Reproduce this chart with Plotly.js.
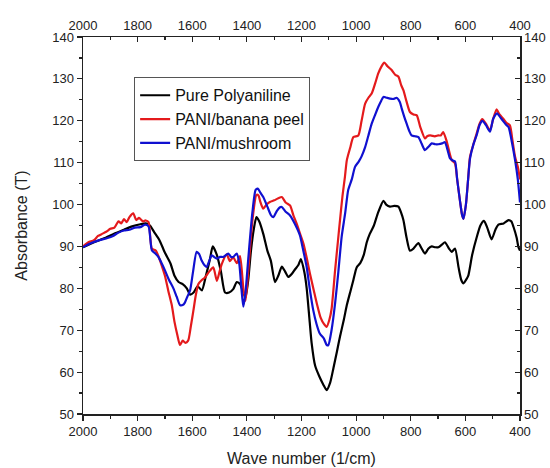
<!DOCTYPE html>
<html>
<head>
<meta charset="utf-8">
<script src="https://cdn.plot.ly/plotly-3.0.1.min.js"></script>
<style>html,body{margin:0;padding:0;background:#fff;}#chart{width:550px;height:468px;}</style>
</head>
<body>
<div id="chart"></div>
<script>
const seriesNames = ["Pure Polyaniline", "PANI/banana peel", "PANI/mushroom"];
const seriesColors = ["#000000", "#e41a1c", "#1010d0"];

const pureX = [2000,1960,1920,1880,1850,1820,1790,1770,1755,1740,1720,1700,1680,1665,1650,1635,1620,1608,1595,1580,1565,1550,1535,1525,1510,1495,1480,1465,1450,1437,1425,1413,1405,1395,1385,1375,1365,1355,1340,1325,1312,1297,1285,1272,1260,1248,1235,1224,1212,1202,1190,1181,1170,1163,1150,1135,1120,1108,1095,1083,1070,1059,1045,1034,1020,1010,998,985,972,961,950,935,919,900,890,876,860,845,835,827,815,803,790,772,760,748,735,723,710,699,685,675,660,650,638,625,615,607,595,589,575,558,545,532,520,504,490,479,460,442,432,424,412,406,400];
const pureY = [89.8,91.0,92.0,93.2,94.0,94.8,95.3,95.5,95.0,93.5,91.5,88.5,86,83,81.5,81,80,78.5,79,80.5,79.5,83,87,90,88,84,79,79,79.8,81.5,81,79,77.8,82,89,94,97,96,93,89,86.5,81.5,83,85.2,84,82.7,83.5,84.5,85.5,87,84,80,72,67,61.5,59,57,55.7,57.5,61,65,68.5,72.5,76,79.5,82,85,86,88,91,93,95,98.2,100.9,100,99.5,99.7,99.5,98,96.3,92,89,89.5,90.8,89.5,88.3,89.5,90.0,89.8,89.8,90.5,91,89.5,88.7,89.5,85,82,81.2,82.3,83.1,88,92.3,95,96.1,94.5,91.7,94,95.2,95.5,96.3,96,94.7,92,89.9,89];

const bananaX = [2000,1980,1960,1945,1930,1915,1900,1885,1870,1860,1850,1840,1830,1816,1805,1795,1780,1770,1760,1748,1733,1720,1712,1700,1688,1675,1665,1655,1645,1635,1625,1615,1605,1596,1588,1578,1565,1553,1538,1523,1510,1500,1492,1474,1462,1450,1437,1425,1413,1405,1395,1380,1365,1358,1350,1340,1328,1316,1300,1285,1272,1258,1242,1230,1218,1205,1193,1180,1169,1155,1144,1130,1118,1108,1098,1090,1077,1067,1059,1050,1041,1034,1022,1010,992,980,967,955,943,930,919,907,897,885,870,857,845,835,827,815,803,790,778,765,748,740,729,712,699,690,681,668,650,638,630,620,612,607,598,590,583,570,559,548,538,525,510,498,486,475,461,450,437,428,418,408,400];
const bananaY = [90,91,91.5,92.5,93,93.5,94.2,94.5,96,95.5,96.5,95.8,97,97.9,96.3,96.8,96,96.2,95.8,89.5,89,87,85.5,83,79.5,76,72,69,66.5,67.5,67,67.5,71,74.6,78,81,82,82.6,84,85,81.8,84,85.8,88.1,86.5,87.4,86,87.7,80,77,84,96,102.3,102.2,100.5,99,100,100.6,101,101.5,101.8,100.5,99.8,97.5,95.5,93,90.7,87,83.5,79.5,76.4,73,71.5,70.8,72.5,75,84.3,91,96.3,102,106.6,110.6,113.5,116.1,116.5,120,124.1,125.5,126.5,129,131.3,133,133.9,133,132.1,131,130.5,128.5,127.3,124.5,122.1,121.5,121.3,118.5,115.8,116.3,116.5,116.3,116.5,116.5,117.3,115,110.6,109.8,106,101,97.5,96.6,100,106,111.4,114.5,116.9,119.3,120.4,119.3,117.7,120.5,122.7,121.5,120.5,119.5,118.9,115.5,111.4,109,106];

const mushroomX = [2000,1970,1940,1910,1890,1870,1850,1830,1810,1790,1773,1760,1748,1735,1724,1712,1700,1685,1669,1657,1645,1635,1627,1618,1608,1597,1584,1575,1566,1555,1547,1538,1529,1520,1510,1498,1486,1468,1458,1450,1437,1428,1420,1413,1405,1395,1380,1368,1360,1350,1340,1325,1312,1303,1290,1280,1272,1258,1242,1225,1206,1195,1181,1170,1157,1145,1133,1118,1108,1102,1090,1077,1065,1053,1040,1029,1016,1004,990,980,967,955,943,930,919,908,900,888,876,864,852,840,833,824,815,805,797,785,772,760,748,735,723,710,699,685,675,665,656,646,638,630,620,612,607,598,590,583,570,559,548,538,525,510,498,484,472,460,450,442,430,418,408,400];
const mushroomY = [89.8,90.8,91.5,92,92.5,93.3,93.8,94,94.5,94.6,95.2,94.8,89.1,88.3,87.5,86,84.3,82,80,78,76,76,76.6,78,79.5,84,88.7,88.2,86.7,85.5,85.1,86.5,87.9,87.5,87.1,87.5,87.5,88.3,87.5,87.5,88.3,86,80,75.6,79,87,98,103.5,103.8,102.8,101.8,99.5,97.5,97,98.5,99.3,99.4,98.3,97.4,95.5,92.7,89.5,85.1,80,74.8,71.5,69.2,68,66.5,66.4,70,76.4,84,92.3,98,103.5,106,109,110.3,111.5,113.7,116.5,119.3,121.5,123.3,124.8,125.7,125.5,125.3,125.2,125.5,124.5,122.9,121,119.3,117.5,116.5,116.3,116.1,114.5,113,113.8,114.6,114.4,114.4,114.6,114.9,113,111,110.5,110.3,106,101,97.5,96.6,100,106,111,114.5,116.5,119,120,119,117.4,120.5,121.8,120.8,119.8,119,118.5,115,110.6,106,100.5];

const xTickVals = [2000,1800,1600,1400,1200,1000,800,600,400];
const yTickVals = [50,60,70,80,90,100,110,120,130,140];

const xs = [pureX, bananaX, mushroomX];
const ys = [pureY, bananaY, mushroomY];

const traces = seriesNames.map((n, i) => ({
  x: xs[i], y: ys[i], name: n, type: 'scatter', mode: 'lines',
  line: {color: seriesColors[i], width: 2.2, shape: 'spline', smoothing: 0.6},
  xaxis: 'x', yaxis: 'y'
}));
// helper trace so the mirrored top/right axes are drawn
traces.push({x: pureX, y: pureY, xaxis: 'x2', yaxis: 'y2', mode: 'lines',
  line: {width: 0, color: 'rgba(0,0,0,0)'}, showlegend: false, hoverinfo: 'skip'});

const FF = 'Liberation Sans, Arial, sans-serif';
const tickFont = {family: FF, size: 13, color: '#222'};
const axisCommon = {
  showline: true, linecolor: '#222', linewidth: 1.5, showgrid: false, zeroline: false,
  tickcolor: '#222', tickwidth: 1.2, ticklen: 5, tickfont: tickFont
};

const layout = {
  width: 550, height: 468,
  margin: {l: 83, r: 30, t: 37, b: 54},
  paper_bgcolor: '#fff', plot_bgcolor: '#fff',
  font: {family: FF, color: '#222'},
  showlegend: true,
  legend: {x: 0.117, y: 0.893, xanchor: 'left', yanchor: 'top',
    bordercolor: '#555', borderwidth: 1, bgcolor: '#fff',
    font: {family: FF, size: 16, color: '#111'},
    tracegroupgap: 0},
  xaxis: Object.assign({}, axisCommon, {
    range: [2000, 400], tickvals: xTickVals, ticks: 'outside',
    minor: {dtick: 100, ticks: 'outside', ticklen: 3, tickcolor: '#222'},
    title: {text: 'Wave number (1/cm)', font: {size: 16, color: '#222'}, standoff: 14}
  }),
  yaxis: Object.assign({}, axisCommon, {
    range: [50, 140], tickvals: yTickVals, ticks: 'outside',
    minor: {dtick: 5, ticks: 'outside', ticklen: 3, tickcolor: '#222'},
    title: {text: 'Absorbance (T)', font: {size: 16, color: '#222'}, standoff: 20}
  }),
  xaxis2: Object.assign({}, axisCommon, {
    overlaying: 'x', side: 'top', range: [2000, 400], tickvals: xTickVals, ticks: 'inside',
    minor: {dtick: 100, ticks: 'inside', ticklen: 3, tickcolor: '#222'}
  }),
  yaxis2: Object.assign({}, axisCommon, {
    overlaying: 'y', side: 'right', range: [50, 140], tickvals: yTickVals, ticks: 'inside',
    minor: {dtick: 5, ticks: 'inside', ticklen: 3, tickcolor: '#222'}
  })
};

Plotly.newPlot('chart', traces, layout, {displayModeBar: false, staticPlot: true});
</script>
</body>
</html>
